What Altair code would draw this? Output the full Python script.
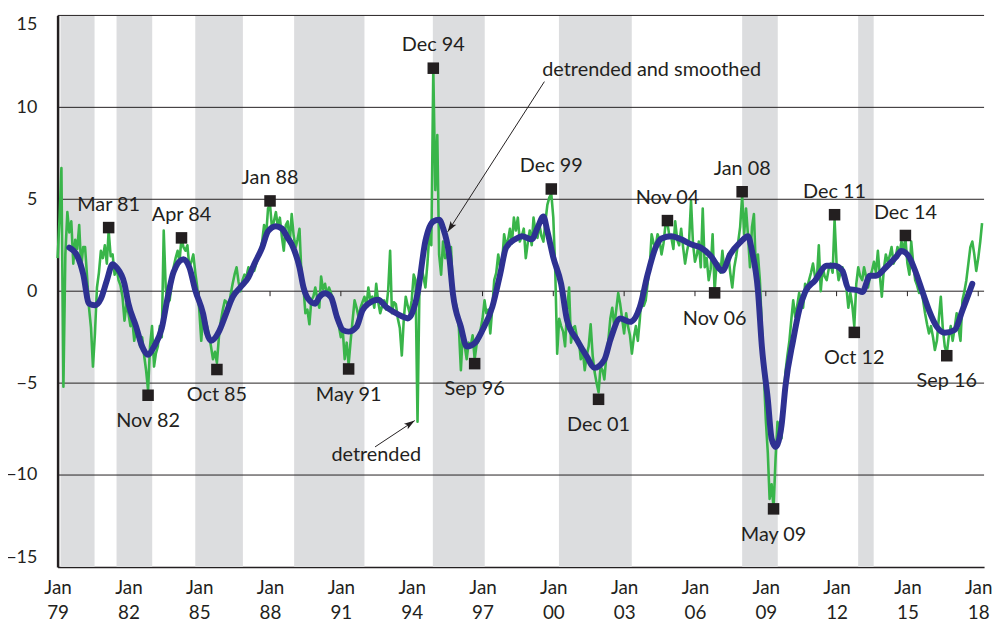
import math
import altair as alt
import pandas as pd

# ---------------- data ----------------
green_1979 = [1.8, 4.0, 6.7, -5.2, 2.0, 4.3, 3.2, 3.8, 1.5, 2.8, 2.3, 3.6]
green_1980 = [1.3, 2.4, 2.4, 0.8, -0.9, -2.0, -4.1, -2.3, 0.2, 1.0, 2.2, 1.8]
green_1981 = [2.5, 1.5, 3.3, 1.9, 2.0, 0.9, 1.3, 0.6, 0.3, -0.3, -1.6, -0.7]
green_1982 = [-1.2, -1.9, -1.5, -2.7, -1.9, -2.5, -3.0, -2.5, -3.5, -4.3, -5.4, -3.0]
green_1983 = [-1.9, -4.1, -3.4, -3.0, -1.9, -2.5, 3.3, 0.2, -0.6, -0.5, 0.4, 1.3]
green_1984 = [1.8, 2.2, 1.6, 2.9, 2.4, 2.2, 2.5, 1.3, 1.6, 2.0, 1.0, 0.2]
green_1985 = [-1.0, -2.7, -1.2, -1.5, -1.9, -2.4, -3.0, -3.7, -3.3, -3.9, -2.5, -1.6]
green_1986 = [-1.0, -0.5, -0.6, -0.9, -0.2, 0.4, 0.9, 1.3, 0.5, 0.0, 0.6, 0.9]
green_1987 = [0.8, 1.3, 0.9, 1.2, 1.1, 1.5, 1.8, 2.2, 2.7, 3.6, 3.0, 4.5]
green_1988 = [4.7, 3.4, 3.8, 4.3, 3.5, 4.0, 3.0, 2.2, 3.6, 3.8, 2.6, 4.2]
green_1989 = [3.0, 2.4, 2.8, 3.4, 0.9, 0.2, -1.2, -1.0, -1.8, -0.5, -0.3, 0.2]
green_1990 = [-0.4, -0.9, 0.8, 0.1, 0.4, -0.2, 0.2, -0.1, -0.5, -0.9, -1.5, -1.9]
green_1991 = [-2.5, -2.2, -3.7, -2.8, -4.0, -2.7, -1.6, -0.5, -0.9, -1.4, -0.9, -0.6]
green_1992 = [-0.3, -0.8, 0.2, -0.5, -0.3, -0.9, 0.4, -0.6, -1.2, -0.8, -0.5, -1.0]
green_1993 = [0.0, 2.2, -1.2, -0.6, -0.7, -1.5, -2.0, -3.5, -1.5, -0.3, -0.8, -1.2]
green_1994 = [-0.5, 0.9, 0.6, -7.1, 0.2, 1.3, 0.8, 0.2, 1.5, 3.1, 2.5, 12.1]
green_1995 = [5.5, 8.5, 2.0, 0.9, 2.7, 1.8, 2.0, 1.5, 2.4, -0.1, -0.5, -0.9]
green_1996 = [-2.0, -4.3, -2.3, -3.0, -3.7, -2.8, -3.0, -2.4, -3.7, -2.9, -2.7, -2.1]
green_1997 = [-1.5, -0.5, -1.2, -1.0, -2.3, -0.9, 0.6, 1.0, 2.0, 1.3, 1.6, 3.1]
green_1998 = [2.5, 2.8, 3.4, 2.6, 4.0, 3.3, 4.0, 2.7, 3.0, 3.4, 1.8, 2.6]
green_1999 = [3.3, 2.5, 4.0, 3.2, 2.9, 3.6, 3.0, 2.7, 3.8, 4.7, 5.1, 5.3]
green_2000 = [4.0, 1.0, -3.4, -1.5, -1.9, -2.2, -3.0, -1.0, 0.2, -2.8, -2.0, -1.9]
green_2001 = [-2.5, -2.7, -3.7, -3.2, -4.3, -3.5, -3.0, -1.8, -3.5, -4.4, -5.0, -5.5]
green_2002 = [-4.1, -4.3, -4.8, -3.5, -2.7, -1.5, -0.9, -1.9, -1.0, -0.1, -0.7, -1.5]
green_2003 = [-2.3, -1.2, -1.9, -2.4, -3.4, -2.5, -1.9, -2.7, -1.5, 0.0, -0.8, -0.5]
green_2004 = [0.5, 1.3, 3.1, 2.6, 2.4, 3.1, 2.8, 2.0, 2.6, 3.6, 3.7, 3.0]
green_2005 = [2.9, 2.3, 3.8, 2.8, 2.5, 3.4, 2.4, 1.5, 2.2, 2.7, 4.9, 2.6]
green_2006 = [1.6, 2.0, 2.7, 1.3, 4.5, 1.3, 1.8, 0.6, 1.2, 3.1, 0.0, 1.5]
green_2007 = [1.5, 1.0, 2.2, 1.1, 1.6, 2.0, 1.0, 0.2, 1.3, 1.9, 2.7, 3.5]
green_2008 = [5.2, 3.1, 4.5, 3.0, 1.3, 3.5, 4.2, 1.1, 2.0, 0.6, -2.0, -4.4]
green_2009 = [-7.0, -8.8, -11.3, -10.5, -11.8, -9.1, -7.1, -7.8, -8.0, -6.0, -4.4, -3.5]
green_2010 = [-2.7, -1.5, -0.5, -1.4, -0.8, -0.1, -0.6, -0.9, 0.4, 0.2, 0.6, 1.0]
green_2011 = [1.5, 0.8, 0.6, 2.5, 0.0, 1.3, 0.8, 0.6, 1.2, 1.5, 1.0, 3.9]
green_2012 = [1.5, 0.6, 1.0, 1.3, 0.6, 0.2, -0.9, -0.1, -0.8, -1.9, 0.4, 1.3]
green_2013 = [0.8, 0.6, 1.3, 0.8, 0.2, 0.8, 1.1, 1.6, 1.0, 2.2, 0.8, -0.3]
green_2014 = [1.2, 2.0, 1.6, 1.9, 2.4, 1.5, 1.8, 2.4, 2.0, 2.7, 2.2, 2.9]
green_2015 = [1.5, 0.9, 2.7, 1.5, 0.6, 0.3, -0.1, 0.2, -0.5, -1.2, -1.8, -2.3]
green_2016 = [-1.9, -2.5, -3.2, -2.7, -1.5, -0.3, -2.0, -3.0, -3.4, -2.5, -1.9, -2.7]
green_2017 = [-2.0, -1.2, -2.0, -2.7, -0.5, 0.0, 0.6, 1.5, 2.4, 2.7, 2.0, 1.1]
green_2018 = [1.8, 2.7, 3.7]

blue_dates = [
    "1979-07", "1979-11", "1980-02", "1980-05", "1980-08", "1980-11", "1981-02", "1981-05",
    "1981-07", "1981-11", "1982-01", "1982-05", "1982-08", "1982-11", "1983-02", "1983-06",
    "1983-09", "1983-12", "1984-05", "1984-08", "1984-11", "1985-03", "1985-05", "1985-07",
    "1985-11", "1986-02", "1986-06", "1986-10", "1987-02", "1987-05", "1987-09", "1987-12",
    "1988-04", "1988-07", "1988-10", "1988-12", "1989-04", "1989-06", "1989-09", "1989-12",
    "1990-02", "1990-05", "1990-08", "1990-11", "1991-02", "1991-05", "1991-09", "1991-12",
    "1992-03", "1992-08", "1992-12", "1993-04", "1993-08", "1993-11", "1994-04", "1994-08",
    "1994-12", "1995-03", "1995-05", "1995-08", "1995-10", "1996-02", "1996-05", "1996-09",
    "1997-01", "1997-06", "1997-10", "1998-01", "1998-06", "1998-09", "1999-02", "1999-05",
    "1999-08", "1999-10", "2000-01", "2000-05", "2000-08", "2001-01", "2001-06", "2001-10",
    "2002-03", "2002-06", "2002-11", "2003-04", "2003-09", "2004-01", "2004-05", "2004-08",
    "2005-01", "2005-06", "2005-11", "2006-04", "2006-09", "2007-03", "2007-07", "2007-12",
    "2008-04", "2008-06", "2008-09", "2008-11", "2009-02", "2009-04", "2009-06", "2009-09",
    "2009-11", "2010-03", "2010-06", "2010-09", "2011-02", "2011-08", "2011-12", "2012-04",
    "2012-07", "2012-12", "2013-02", "2013-06", "2013-09", "2014-02", "2014-07", "2014-10",
    "2015-02", "2015-05", "2015-09", "2015-12", "2016-04", "2016-08", "2017-01", "2017-05",
    "2017-10",
]
blue_values = [
    2.37, 1.92, 0.93, -0.68, -0.77, -0.41, 0.58, 1.47,
    1.29, 0.40, -0.68, -1.94, -3.01, -3.46, -3.01, -2.02,
    -0.32, 1.05, 1.74, 1.29, 0.04, -1.22, -2.29, -2.70,
    -2.20, -1.40, -0.32, 0.22, 0.75, 1.47, 2.37, 3.26,
    3.53, 3.41, 2.90, 2.55, 1.29, 0.22, -0.50, -0.68,
    -0.32, -0.11, -0.32, -1.40, -2.11, -2.20, -1.94, -1.04,
    -0.68, -0.46, -0.86, -1.13, -1.36, -1.48, -0.14, 2.73,
    3.80, 3.89, 3.44, 2.01, -0.14, -1.94, -3.01, -2.83,
    -2.11, -0.86, 0.93, 2.37, 2.85, 2.99, 2.82, 3.44,
    4.07, 3.26, 1.83, 0.40, -1.58, -2.65, -3.55, -4.17,
    -3.73, -2.65, -1.48, -1.67, -0.86, 0.93, 2.37, 2.87,
    2.99, 2.82, 2.55, 2.37, 1.92, 1.11, 2.01, 2.65,
    2.99, 2.19, 0.04, -3.01, -5.88, -8.03, -8.47, -7.31,
    -5.16, -2.65, -1.04, -0.05, 0.58, 1.38, 1.38, 1.11,
    0.13, 0.04, -0.05, 0.84, 0.84, 1.29, 1.83, 2.19,
    1.83, 1.11, -0.14, -1.04, -1.94, -2.26, -2.11, -1.04,
    0.40,
]

marker_labels = ["Mar 81", "Nov 82", "Apr 84", "Oct 85", "Jan 88", "May 91", "Dec 94", "Sep 96",
                 "Dec 99", "Dec 01", "Nov 04", "Nov 06", "Jan 08", "May 09", "Dec 11", "Oct 12",
                 "Dec 14", "Sep 16"]
marker_values = [3.46, -5.66, 2.9, -4.26, 4.91, -4.23, 12.13, -3.94,
                 5.56, -5.88, 3.84, -0.09, 5.41, -11.84, 4.16, -2.24,
                 3.03, -3.51]
marker_sides = ["above", "below"] * 9

band_starts = ["1979-02-15", "1981-07-01", "1984-10-31", "1989-01-08",
               "1994-11-24", "2000-03-28", "2008-01-01", "2012-11-30"]
band_ends = ["1980-07-26", "1983-01-04", "1986-11-07", "1992-01-01",
             "1997-02-04", "2003-04-29", "2009-07-05", "2013-07-28"]

grid_values = [-10, -5, 0, 5, 10, 15]
y_tick_values = [-15, -10, -5, 0, 5, 10, 15]
x_tick_years = list(range(1979, 2019, 3))

ann_texts = ["detrended and smoothed", "detrended"]
ann_text_dates = ["2004-03-01", "1992-07-01"]
ann_text_values = [12.04, -8.92]
arrow_from_dates = ["1999-08-16", "1992-06-13"]
arrow_from_values = [11.4, -8.47]
arrow_to_dates = ["1995-07-12", "1994-02-17"]
arrow_to_values = [3.23, -7.04]

# ---------------- frames ----------------
green_values = (green_1979 + green_1980 + green_1981 + green_1982 + green_1983 + green_1984 +
                green_1985 + green_1986 + green_1987 + green_1988 + green_1989 + green_1990 +
                green_1991 + green_1992 + green_1993 + green_1994 + green_1995 + green_1996 +
                green_1997 + green_1998 + green_1999 + green_2000 + green_2001 + green_2002 +
                green_2003 + green_2004 + green_2005 + green_2006 + green_2007 + green_2008 +
                green_2009 + green_2010 + green_2011 + green_2012 + green_2013 + green_2014 +
                green_2015 + green_2016 + green_2017 + green_2018)
green_df = pd.DataFrame({
    "date": pd.date_range("1979-01-01", periods=len(green_values), freq="MS").strftime("%Y-%m-%d"),
    "v": green_values,
})
blue_df = pd.DataFrame({"date": [d + "-01" for d in blue_dates], "v": blue_values})
marker_df = pd.DataFrame({
    "date": pd.to_datetime(marker_labels, format="%b %y").strftime("%Y-%m-%d"),
    "v": marker_values,
    "label": marker_labels,
    "side": marker_sides,
})
band_df = pd.DataFrame({"start": band_starts, "end": band_ends})
grid_df = pd.DataFrame({"v": grid_values})
tick_df = pd.DataFrame({"date": [f"{y}-01-01" for y in x_tick_years]})
ann_df = pd.DataFrame({"date": ann_text_dates, "v": ann_text_values, "text": ann_texts})

W, H = 934, 556
X0 = pd.Timestamp("1979-01-01")
X1 = pd.Timestamp("2018-04-01")
px_day = W / (X1 - X0).days
px_unit = H / 30.0
angles = []
for fd, fv, td, tv in zip(arrow_from_dates, arrow_from_values, arrow_to_dates, arrow_to_values):
    dx = (pd.Timestamp(td) - pd.Timestamp(fd)).days * px_day
    dy = -(tv - fv) * px_unit
    angles.append(math.degrees(math.atan2(dy, dx)) % 360)
arrow_df = pd.DataFrame({
    "d1": arrow_from_dates, "v1": arrow_from_values,
    "d2": arrow_to_dates, "v2": arrow_to_values, "ang": angles,
})

# ---------------- chart ----------------
INK = "#231f20"
FONT = "Lato"
FS = 20
AFS = 19

xs = alt.Scale(domain=[alt.DateTime(year=1979, month=1, date=1),
                       alt.DateTime(year=2018, month=4, date=1)], nice=False)
ys = alt.Scale(domain=[-15, 15], nice=False)

x_axis = alt.Axis(
    values=[alt.DateTime(year=y, month=1, date=1) for y in x_tick_years],
    labelExpr="['Jan', timeFormat(datum.value, '%y')]",
    ticks=False, grid=False, domain=True, domainColor=INK, domainWidth=1.5,
    labelFont=FONT, labelFontSize=AFS, labelColor=INK, labelPadding=12,
    labelBaseline="top", labelLineHeight=25, labelFlush=False, labelOverlap=False,
    labelAlign="center", title=None)
y_axis = alt.Axis(
    values=y_tick_values, ticks=False, grid=False, domain=True, domainColor=INK,
    domainWidth=2.5, labelFont=FONT, labelFontSize=18, labelColor=INK,
    labelPadding=21, labelFlush=True, title=None)


def X(field):
    return alt.X(field, scale=xs, axis=x_axis, title=None)


def Y(field):
    return alt.Y(field, scale=ys, axis=y_axis, title=None)


bands = alt.Chart(band_df).mark_rect(color="#dcdddf").encode(x=X("start:T"), x2="end:T")

grid = alt.Chart(grid_df).mark_rule(color=INK, strokeWidth=1).encode(y=Y("v:Q"))

zero_ticks = alt.Chart(tick_df).transform_calculate(
    y0="0", y1="-0.27"
).mark_rule(color=INK, strokeWidth=1).encode(x=X("date:T"), y=Y("y0:Q"), y2="y1:Q")

green = alt.Chart(green_df).mark_line(color="#39b54a", strokeWidth=2.6, strokeJoin="round").encode(
    x=X("date:T"), y=Y("v:Q"))

blue = alt.Chart(blue_df).mark_line(color="#2e3192", strokeWidth=6, interpolate="monotone",
                                    strokeCap="round", strokeJoin="round").encode(
    x=X("date:T"), y=Y("v:Q"))

markers = alt.Chart(marker_df).mark_square(size=135, color=INK, opacity=1).encode(
    x=X("date:T"), y=Y("v:Q"))

lab_above = alt.Chart(marker_df).transform_filter("datum.side == 'above'").mark_text(
    font=FONT, fontSize=FS, color=INK, dy=-23, baseline="middle").encode(
    x=X("date:T"), y=Y("v:Q"), text="label:N")
lab_below = alt.Chart(marker_df).transform_filter("datum.side == 'below'").mark_text(
    font=FONT, fontSize=FS, color=INK, dy=26, baseline="middle").encode(
    x=X("date:T"), y=Y("v:Q"), text="label:N")

ann_text = alt.Chart(ann_df).mark_text(font=FONT, fontSize=FS, color=INK, baseline="middle").encode(
    x=X("date:T"), y=Y("v:Q"), text="text:N")

arrow_lines = alt.Chart(arrow_df).mark_rule(color=INK, strokeWidth=1).encode(
    x=X("d1:T"), y=Y("v1:Q"), x2="d2:T", y2="v2:Q")

ARROW = "M0,0 L-1,-0.32 L-0.78,0 L-1,0.32 Z"
arrow_heads = alt.Chart(arrow_df).mark_point(shape=ARROW, size=460, filled=True, color=INK,
                                             opacity=1, strokeWidth=0).encode(
    x=X("d2:T"), y=Y("v2:Q"), angle=alt.Angle("ang:Q", scale=None))

chart = alt.layer(
    bands, grid, zero_ticks, green, blue, markers, lab_above, lab_below,
    arrow_lines, arrow_heads, ann_text,
).properties(
    width=W, height=H,
    autosize=alt.AutoSizeParams(type="none"),
    padding={"left": 50, "top": 5, "right": 8, "bottom": 53},
    background="white",
).configure_view(stroke=None)

chart.save("out.html", embed_options={"renderer": "svg", "actions": False})
